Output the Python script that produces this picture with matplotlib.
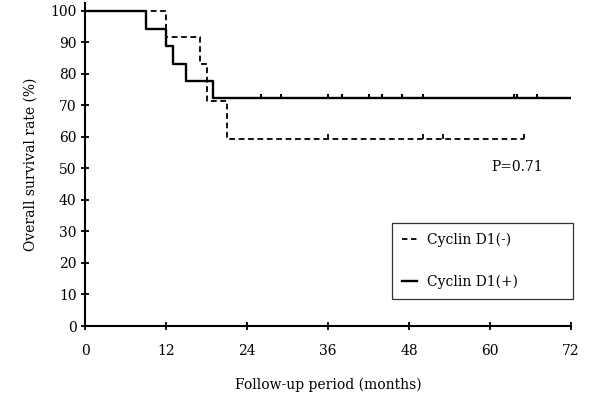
import matplotlib
matplotlib.use("Agg")
import matplotlib.pyplot as plt
from matplotlib.lines import Line2D

# Data
neg_times = [0, 12, 17, 18, 21, 65]
neg_surv = [100, 91.7, 83.3, 71.4, 59.5, 59.5]
neg_censor = [36, 50, 53, 65]

pos_times = [0, 9, 12, 13, 15, 19, 72]
pos_surv = [100, 94.4, 88.9, 83.3, 77.8, 72.2, 72.2]
pos_censor = [26, 29, 36, 38, 42, 44, 47, 50, 63.5, 64, 67]

x_ticks = [0, 12, 24, 36, 48, 60, 72]
y_ticks = [0, 10, 20, 30, 40, 50, 60, 70, 80, 90, 100]
labels = ["Cyclin D1(-)", "Cyclin D1(+)"]
p_text = "P=0.71"

plt.rcParams['font.family'] = ['DejaVu Serif']

fig = plt.figure(figsize=(5.91, 4.04), dpi=100)
ax = fig.add_axes([85/591, 1-326/404, 486/591, 323/404])

ax.step(neg_times, neg_surv, where='post', color='black', lw=1.3,
        linestyle=(0, (3.2, 2.0)))
ax.step(pos_times, pos_surv, where='post', color='black', lw=1.7)

tick_h = 1.4
neg_level = neg_surv[-1]
pos_level = pos_surv[-1]
ax.vlines(neg_censor, neg_level, neg_level + tick_h, color='black', lw=1.3)
ax.vlines(pos_censor, pos_level, pos_level + tick_h, color='black', lw=1.5)

ax.set_xlim(0, 72)
ax.set_ylim(0, 102.5)
ax.set_xticks(x_ticks)
ax.set_yticks(y_ticks)
ax.tick_params(direction='inout', length=6, width=1.3, labelsize=10, pad=3)
ax.tick_params(axis='x', pad=10)
for s in ['top', 'right']:
    ax.spines[s].set_visible(False)
for s in ['left', 'bottom']:
    ax.spines[s].set_linewidth(1.5)

ax.set_xlabel("Follow-up period (months)", fontsize=10, labelpad=14)
ax.set_ylabel("Overall survival rate (%)", fontsize=10, labelpad=9)

ax.text(64, 50.5, p_text, fontsize=10, ha='center', va='center')

handles = [Line2D([], [], color='black', lw=1.3, linestyle=(0, (3, 2))),
           Line2D([], [], color='black', lw=1.7)]
leg = fig.legend(handles, labels, loc='upper left',
                 bbox_to_anchor=(392/591, 1-300/404, 181/591, 77/404),
                 mode='expand', borderaxespad=0, fontsize=10,
                 handlelength=1.1, handletextpad=0.7, borderpad=0.7,
                 labelspacing=2.0, frameon=True, fancybox=False)
leg.get_frame().set_edgecolor('black')
leg.get_frame().set_linewidth(0.9)

fig.savefig("out.png", dpi=100)
